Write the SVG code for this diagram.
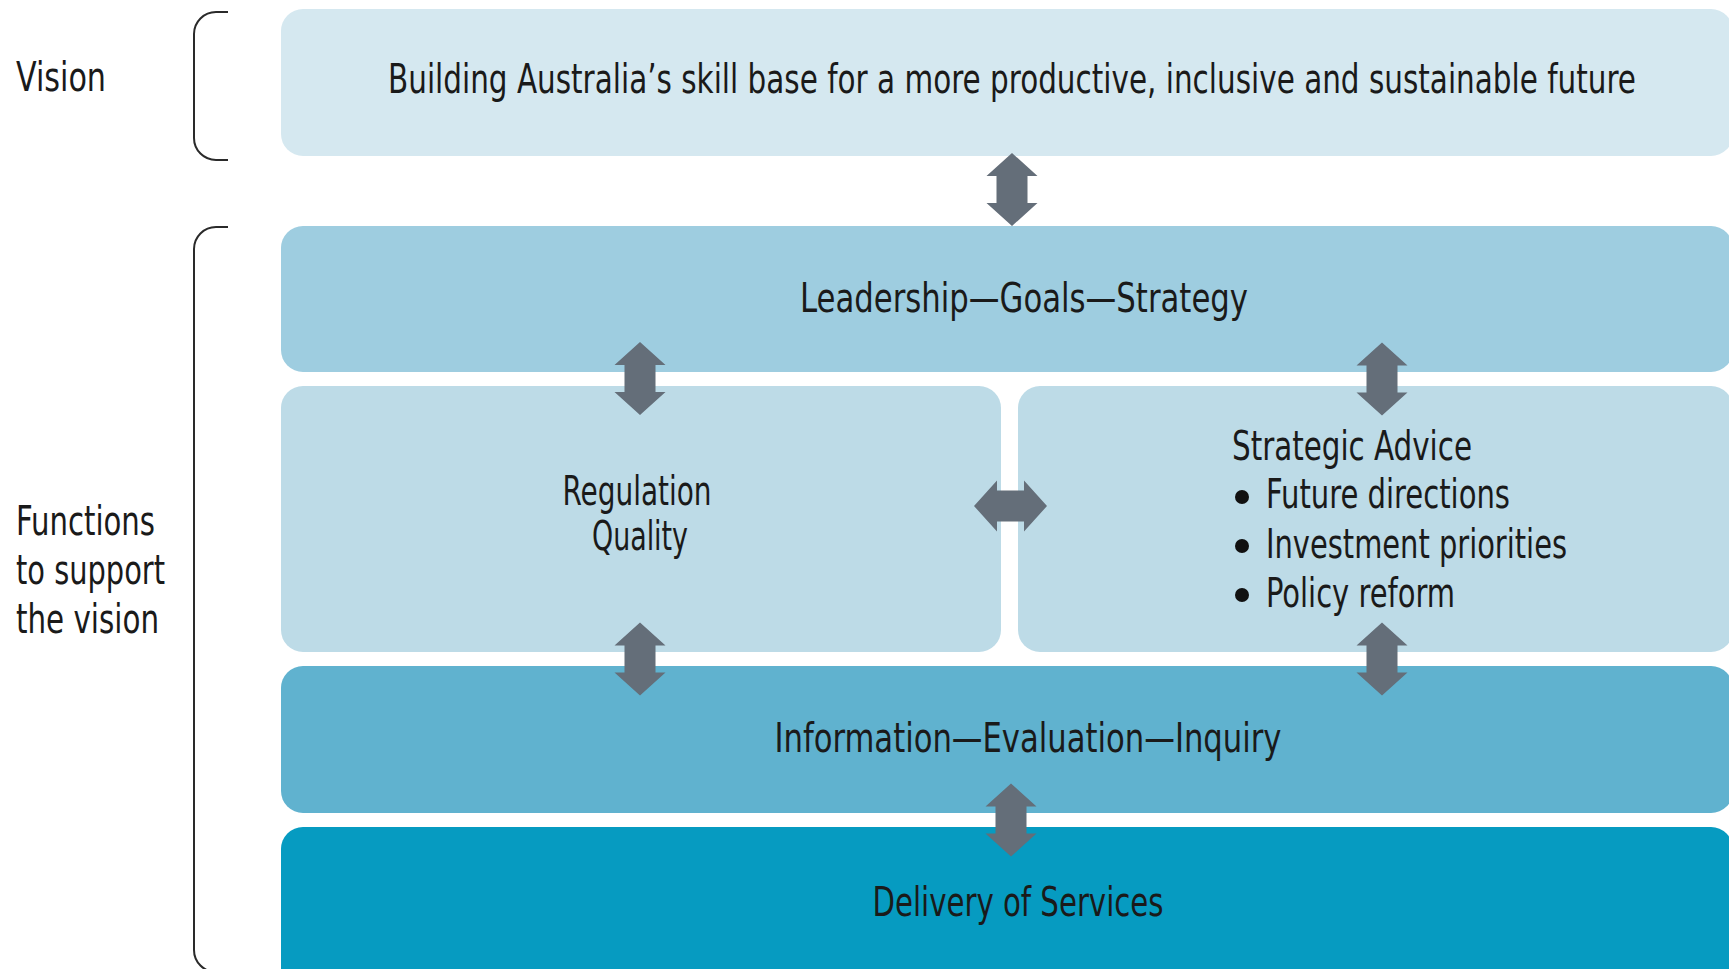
<svg xmlns="http://www.w3.org/2000/svg" xmlns:xlink="http://www.w3.org/1999/xlink" width="1729" height="969" viewBox="0 0 1729 969">
<style>
text{font-family:"Liberation Sans Narrow","DejaVu Sans Condensed","Liberation Sans",sans-serif;font-size:40px;fill:#1a1a1a}
.c{text-anchor:middle}
.br{fill:none;stroke:#2a2a2a;stroke-width:2}
.ar{fill:#646e79}
</style>
<defs>
<path id="dv" d="M0,-36.5 L25.5,-13.5 L15.5,-13.5 L15.5,13.5 L25.5,13.5 L0,36.5 L-25.5,13.5 L-15.5,13.5 L-15.5,-13.5 L-25.5,-13.5 Z"/>
</defs>
<rect width="1729" height="969" fill="#ffffff"/>
<g id="labels">
<text x="16" y="91" textLength="90" lengthAdjust="spacingAndGlyphs">Vision</text>
<path class="br" d="M228,12 L216,12 A22,22 0 0 0 194,34 L194,138 A22,22 0 0 0 216,160 L228,160"/>
<text x="16" y="535" textLength="139" lengthAdjust="spacingAndGlyphs">Functions</text>
<text x="16" y="584" textLength="149" lengthAdjust="spacingAndGlyphs">to support</text>
<text x="16" y="633" textLength="143" lengthAdjust="spacingAndGlyphs">the vision</text>
<path class="br" d="M228,227 L216,227 A22,22 0 0 0 194,249 L194,950 A22,22 0 0 0 216,972 L228,972"/>
</g>
<g id="vision">
<rect x="281" y="9" width="1452" height="147" rx="22" fill="#d5e8f0"/>
<text class="c" x="1012" y="93" textLength="1248" lengthAdjust="spacingAndGlyphs">Building Australia’s skill base for a more productive, inclusive and sustainable future</text>
</g>
<g id="leadership">
<rect x="281" y="226" width="1452" height="146" rx="22" fill="#9ecde0"/>
<text class="c" x="1024" y="312" textLength="448" lengthAdjust="spacingAndGlyphs">Leadership—Goals—Strategy</text>
</g>
<g id="regulation">
<rect x="281" y="386" width="720" height="266" rx="22" fill="#bddbe7"/>
<text class="c" x="637" y="505" textLength="149" lengthAdjust="spacingAndGlyphs">Regulation</text>
<text class="c" x="640" y="550" textLength="96" lengthAdjust="spacingAndGlyphs">Quality</text>
</g>
<g id="strategic">
<rect x="1018" y="386" width="715" height="266" rx="22" fill="#bddbe7"/>
<text x="1232" y="460" textLength="240" lengthAdjust="spacingAndGlyphs">Strategic Advice</text>
<circle cx="1242" cy="497" r="7" fill="#111"/>
<text x="1266" y="508" textLength="244" lengthAdjust="spacingAndGlyphs">Future directions</text>
<circle cx="1242" cy="546" r="7" fill="#111"/>
<text x="1266" y="558" textLength="301" lengthAdjust="spacingAndGlyphs">Investment priorities</text>
<circle cx="1242" cy="595" r="7" fill="#111"/>
<text x="1266" y="607" textLength="189" lengthAdjust="spacingAndGlyphs">Policy reform</text>
</g>
<g id="information">
<rect x="281" y="666" width="1452" height="147" rx="22" fill="#60b2cf"/>
<text class="c" x="1028" y="752" textLength="507" lengthAdjust="spacingAndGlyphs">Information—Evaluation—Inquiry</text>
</g>
<g id="delivery">
<rect x="281" y="827" width="1452" height="170" rx="22" fill="#069bc1"/>
<text class="c" x="1018" y="916" textLength="291" lengthAdjust="spacingAndGlyphs">Delivery of Services</text>
</g>
<g id="connectors" class="ar">
<use xlink:href="#dv" href="#dv" transform="translate(1012,189.5)"/>
<use xlink:href="#dv" href="#dv" transform="translate(640,378.5)"/>
<use xlink:href="#dv" href="#dv" transform="translate(1382,379)"/>
<use xlink:href="#dv" href="#dv" transform="translate(640,659)"/>
<use xlink:href="#dv" href="#dv" transform="translate(1382,659)"/>
<use xlink:href="#dv" href="#dv" transform="translate(1011,820)"/>
<use xlink:href="#dv" href="#dv" transform="translate(1010.5,506) rotate(90)"/>
</g>
</svg>
